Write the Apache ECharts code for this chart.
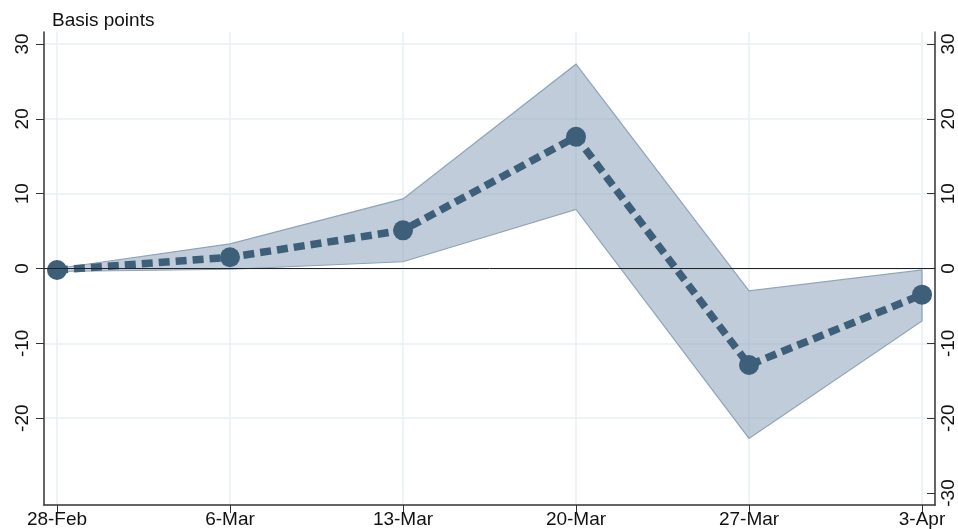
<!DOCTYPE html>
<html>
<head>
<meta charset="utf-8">
<script src="https://cdn.jsdelivr.net/npm/echarts@6/dist/echarts.min.js"></script>
<style>
  body { margin: 0; background: #fff; }
  #chart { width: 958px; height: 529px; }
</style>
</head>
<body>
<div id="chart"></div>
<script>
// 데이터
var weeks = ['28-Feb', '6-Mar', '13-Mar', '20-Mar', '27-Mar', '3-Apr'];
var estimate = [-0.2, 1.5, 5.1, 17.6, -12.9, -3.5];
var ciLower = [-0.4, -0.1, 0.9, 7.9, -22.7, -7.0];
var ciUpper = [0.0, 3.3, 9.3, 27.3, -3.0, -0.2];
var leftTicks = [-20, -10, 0, 10, 20, 30];
var rightTicks = [-30, -20, -10, 0, 10, 20, 30];

var xIdx = weeks.map(function (w, i) { return i; });

function pairs(vals) {
    return vals.map(function (v, i) { return [i, v]; });
}

var chart = echarts.init(document.getElementById('chart'));

var lineColor = '#3d5f7a';
var bandLine = '#8fa4b7';
var gridColor = '#e9f0f3';
var font = 'Liberation Sans, Arial, sans-serif';

// 신뢰구간 영역 (다각형 하나로)
function renderBand(params, api) {
    if (params.dataIndex !== 0) return;
    var pts = [];
    for (var i = 0; i < ciUpper.length; i++) {
        pts.push(api.coord([i, ciUpper[i]]));
    }
    for (var j = ciLower.length - 1; j >= 0; j--) {
        pts.push(api.coord([j, ciLower[j]]));
    }
    return {
        type: 'polygon',
        shape: { points: pts },
        style: { fill: 'rgba(140,163,186,0.55)', stroke: bandLine, lineWidth: 1.2 }
    };
}

var option = {
    animation: false,
    title: {
        text: 'Basis points',
        left: 47,
        top: 6,
        textStyle: { fontFamily: font, fontSize: 19, fontWeight: 'normal', color: '#111' }
    },
    grid: { left: 44, right: 22, top: 32, bottom: 23 },
    xAxis: {
        type: 'value',
        min: -0.075,
        max: 5.075,
        axisLine: { show: true, onZero: false, lineStyle: { color: '#333', width: 1.5 } },
        axisTick: { show: true, customValues: xIdx, length: 8, lineStyle: { color: '#333' } },
        axisLabel: {
            customValues: xIdx,
            margin: 5,
            fontFamily: font, fontSize: 19, color: '#111',
            formatter: function (v) { return weeks[Math.round(v)]; }
        },
        splitLine: { show: true, lineStyle: { color: gridColor, width: 1.5 } }
    },
    yAxis: [
        {
            type: 'value',
            position: 'left',
            min: -31.6,
            max: 31.6,
            axisLine: { show: true, onZero: false, lineStyle: { color: '#333', width: 1.5 } },
            axisTick: { show: true, customValues: leftTicks, length: 8, lineStyle: { color: '#333' } },
            axisLabel: {
                customValues: leftTicks,
                rotate: 90,
                margin: 12,
                fontFamily: font, fontSize: 19, color: '#111'
            },
            splitLine: { show: true, lineStyle: { color: gridColor, width: 1.5 } }
        },
        {
            type: 'value',
            position: 'right',
            min: -31.6,
            max: 31.6,
            axisLine: { show: true, onZero: false, lineStyle: { color: '#333', width: 1.5 } },
            axisTick: { show: true, inside: true, customValues: rightTicks, length: 8, lineStyle: { color: '#333' } },
            axisLabel: {
                customValues: rightTicks,
                rotate: 90,
                margin: 4,
                fontFamily: font, fontSize: 19, color: '#111'
            },
            splitLine: { show: false }
        }
    ],
    series: [
        {
            type: 'custom',
            renderItem: renderBand,
            data: pairs(ciUpper),
            silent: true,
            z: 1
        },
        // 0 기준선
        {
            type: 'line',
            data: [],
            markLine: {
                silent: true,
                symbol: 'none',
                label: { show: false },
                lineStyle: { color: '#222', width: 1, type: 'solid' },
                data: [{ yAxis: 0 }]
            },
            z: 2
        },
        // 추정치
        {
            type: 'line',
            data: pairs(estimate),
            symbol: 'circle',
            symbolSize: 20,
            itemStyle: { color: lineColor },
            lineStyle: { color: lineColor, width: 7.5, type: [11, 6] },
            z: 3
        }
    ]
};

chart.setOption(option);
</script>
</body>
</html>
